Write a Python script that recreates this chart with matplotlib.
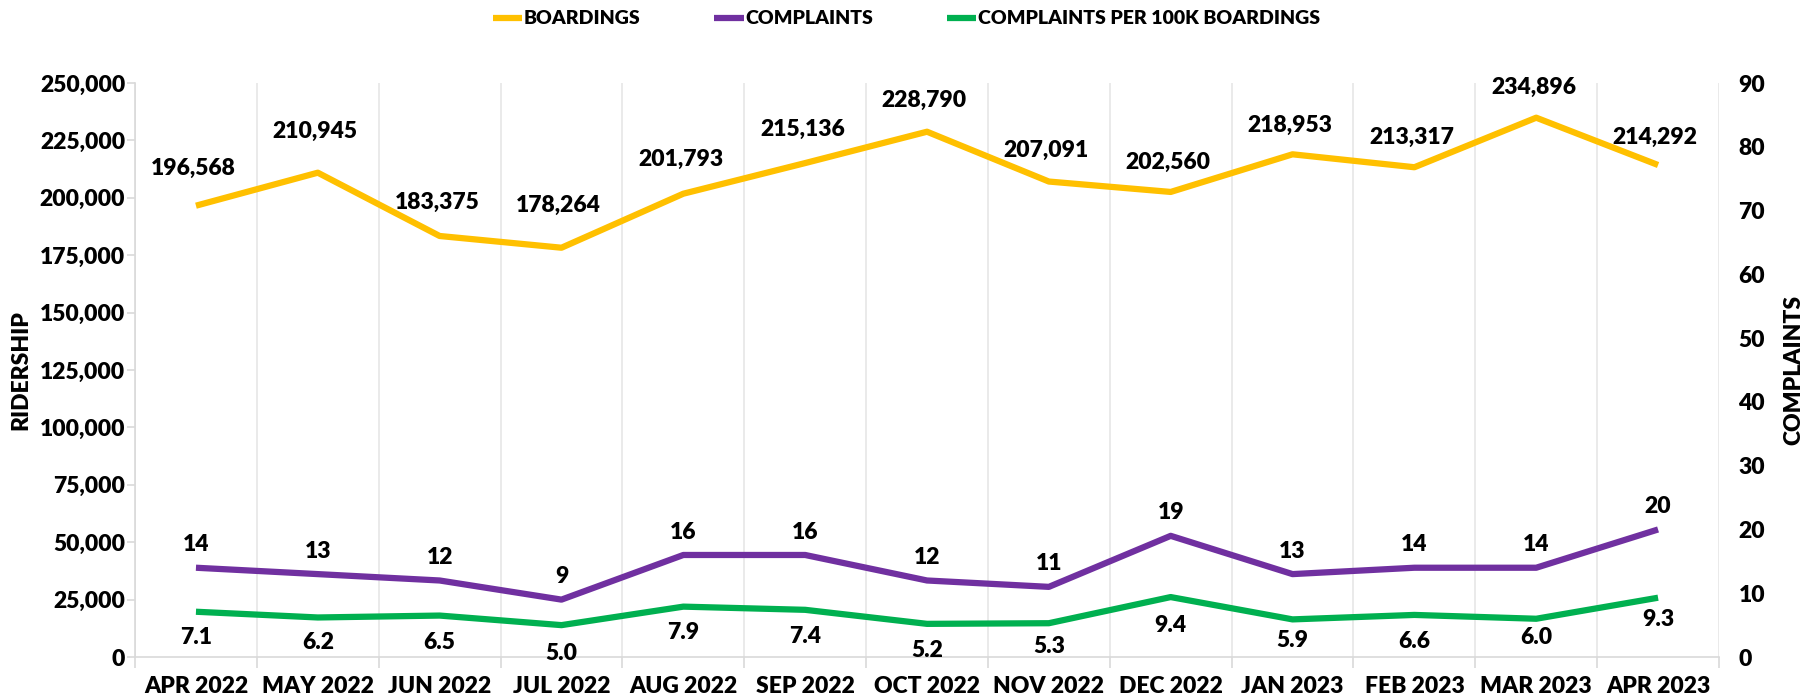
import matplotlib
matplotlib.use('Agg')
import matplotlib.pyplot as plt
from matplotlib.ticker import FuncFormatter, MultipleLocator
import numpy as np

# === DATOS ===
meses = ["APR 2022", "MAY 2022", "JUN 2022", "JUL 2022", "AUG 2022", "SEP 2022", "OCT 2022",
         "NOV 2022", "DEC 2022", "JAN 2023", "FEB 2023", "MAR 2023", "APR 2023"]
boardings = [196568, 210945, 183375, 178264, 201793, 215136, 228790,
             207091, 202560, 218953, 213317, 234896, 214292]
complaints = [14, 13, 12, 9, 16, 16, 12, 11, 19, 13, 14, 14, 20]
per_100k = [7.1, 6.2, 6.5, 5.0, 7.9, 7.4, 5.2, 5.3, 9.4, 5.9, 6.6, 6.0, 9.3]

# desplazamiento vertical de cada etiqueta (puntos), como en el original
off_boardings = [27, 29.5, 24, 30.5, 24.5, 24, 22.3, 22.3, 21, 21, 21.6, 21.8, 20]
off_per_100k = [18.7, 18, 19.4, 20.2, 18.7, 19.4, 19.4, 16.6, 20.2, 15.1, 19.4, 13.7, 15.8]

AMARILLO, MORADO, VERDE = '#FFC000', '#7030A0', '#00B050'
GRIS = '#D9D9D9'
plt.rcParams['font.family'] = ['Lato', 'DejaVu Sans']
plt.rcParams['font.weight'] = 'heavy'
plt.rcParams['axes.labelweight'] = 'heavy'

fig = plt.figure(figsize=(18.15, 7), dpi=100)
ax = fig.add_axes([0.0744, 0.0614, 0.8727, 0.8200])
ax2 = ax.twinx()

x = np.arange(len(meses))
lw = 4.5
l1, = ax.plot(x, boardings, color=AMARILLO, lw=lw, solid_capstyle='butt', label="BOARDINGS", zorder=3)
l2, = ax2.plot(x, complaints, color=MORADO, lw=lw, solid_capstyle='butt', label="COMPLAINTS", zorder=3)
l3, = ax2.plot(x, per_100k, color=VERDE, lw=lw, solid_capstyle='butt', label="COMPLAINTS PER 100K BOARDINGS", zorder=3)

fs = 16.5
for xi, v, o in zip(x, boardings, off_boardings):
    ax.annotate(f"{v:,}", (xi, v), xytext=(-2, o), textcoords='offset points',
                ha='center', va='center', fontsize=fs)
for xi, v in zip(x, complaints):
    ax2.annotate(f"{v}", (xi, v), xytext=(0, 16.5), textcoords='offset points',
                 ha='center', va='center', fontsize=fs)
for xi, v, o in zip(x, per_100k, off_per_100k):
    ax2.annotate(f"{v:.1f}", (xi, v), xytext=(0, -o), textcoords='offset points',
                 ha='center', va='center', fontsize=fs)

ax.set_xlim(-0.5, len(meses) - 0.5)
ax.set_ylim(0, 250000)
ax2.set_ylim(0, 90)
ax.yaxis.set_major_locator(MultipleLocator(25000))
ax2.yaxis.set_major_locator(MultipleLocator(10))
ax.yaxis.set_major_formatter(FuncFormatter(lambda v, p: f"{int(v):,}"))

ax.set_xticks(x)
ax.set_xticklabels(meses)
ax.set_xticks(np.arange(-0.5, len(meses)), minor=True)
ax.tick_params(axis='x', which='major', length=0, pad=14, labelsize=fs)
ax.tick_params(axis='x', which='minor', length=8, color=GRIS, width=1.2)
ax.tick_params(axis='y', length=6, color=GRIS, width=1.2, labelsize=fs, pad=1)
ax2.tick_params(axis='y', length=0, labelsize=fs, pad=14)
ax.grid(True, which='minor', axis='x', color='#E6E6E6', lw=1.2)

for s in ['top', 'right']:
    ax.spines[s].set_visible(False)
for s in ['top', 'right', 'left', 'bottom']:
    ax2.spines[s].set_visible(False)
ax.spines['left'].set_color(GRIS)
ax.spines['bottom'].set_color(GRIS)
ax.spines['left'].set_linewidth(1.2)
ax.spines['bottom'].set_linewidth(1.2)

ax.set_ylabel("RIDERSHIP", fontsize=fs, fontweight='heavy', labelpad=6)
ax2.set_ylabel("COMPLAINTS", fontsize=fs, fontweight='heavy', labelpad=13)

fig.legend(handles=[l1, l2, l3], loc='center', bbox_to_anchor=(0.4995, 0.973), ncol=3, frameon=False,
           fontsize=14, handlelength=1.5, handletextpad=0.1, columnspacing=3.8)

plt.savefig("out.png", dpi=100)
plt.close()
